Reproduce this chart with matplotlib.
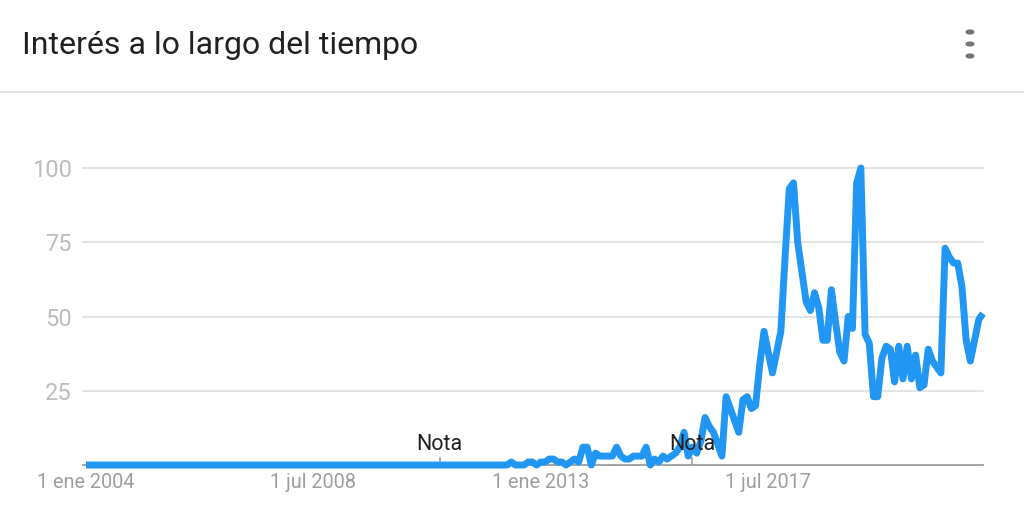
import matplotlib
matplotlib.use("Agg")
import matplotlib.pyplot as plt
from matplotlib.lines import Line2D
import numpy as np

plt.rcParams['font.family'] = ['Roboto', 'DejaVu Sans']

title = "Interés a lo largo del tiempo"
y_ticks = [25, 50, 75, 100]
x_tick_pos = [0, 54, 108, 162]
x_tick_labels = ["1 ene 2004", "1 jul 2008", "1 ene 2013", "1 jul 2017"]
note_pos = [84, 144]
note_label = "Nota"

# monthly interest, Jan 2004 .. Oct 2021
zeros_part = [0] * 100
values_2012_on = [
    0, 1, 0, 0, 0, 1, 1, 0, 1, 1,      # 100-109
    2, 2, 1, 1, 0, 1, 2, 1, 6, 6,      # 110-119
    0, 4, 3, 3, 3, 3, 6, 3, 2, 2,      # 120-129
    3, 3, 3, 6, 0, 2, 1, 3, 2, 3,      # 130-139
    4, 6, 11, 3, 6, 4, 8, 16, 13, 11,  # 140-149
    7, 3, 23, 19, 15, 11, 22, 23, 19, 20,  # 150-159
    34, 45, 38, 31, 38, 45, 70, 93, 95, 75,  # 160-169
    65, 55, 52, 58, 53, 42, 42, 59, 48, 38,  # 170-179
    35, 50, 46, 95, 100, 44, 41, 23, 23, 36,  # 180-189
    40, 39, 28, 40, 29, 40, 29, 37, 26, 27,  # 190-199
    39, 35, 33, 31, 73, 70, 68, 68, 60, 42,  # 200-209
    35, 42, 49, 51,                          # 210-213
]
interest = zeros_part + values_2012_on
x = np.arange(len(interest))

W, H = 1024, 515
fig = plt.figure(figsize=(W / 100, H / 100), dpi=100)
fig.patch.set_facecolor('white')

x_left_px, x_right_px = 83, 983
y_bot_px, y_top_px = 465, 168
ax = fig.add_axes([x_left_px / W, (H - y_bot_px) / H,
                   (x_right_px - x_left_px) / W, (y_bot_px - y_top_px) / H])
ax.set_facecolor('white')

px_per_month = (983 - 86) / 213
ax.set_xlim(-3 / px_per_month, 213)
ax.set_ylim(0, 100)

for v in y_ticks:
    ax.axhline(v, color='#e0e0e0', lw=1.3, zorder=1, clip_on=False)

ax.plot(x, interest, color='#2196f3', lw=5.0, solid_joinstyle='round',
        solid_capstyle='butt', zorder=3, clip_on=False)

for s in ['top', 'right', 'left']:
    ax.spines[s].set_visible(False)
ax.spines['bottom'].set_color('#9e9e9e')
ax.spines['bottom'].set_linewidth(1.3)
ax.spines['bottom'].set_zorder(2)

ax.set_yticks(y_ticks)
ax.set_yticklabels([str(v) for v in y_ticks])
ax.tick_params(axis='y', length=0, pad=8, labelsize=17, labelcolor='#bdbdbd')
ax.set_xticks(x_tick_pos)
ax.set_xticklabels(x_tick_labels)
ax.tick_params(axis='x', length=0, pad=6, labelsize=14.3, labelcolor='#9e9e9e')

for p in note_pos:
    ax.plot([p, p], [0, 2.3], color='#9e9e9e', lw=1.2, zorder=2)
    ax.text(p, 3.4, note_label, ha='center', va='bottom', fontsize=15.5,
            color='#212121', zorder=5)

fig.text(22 / W, 1 - 45 / H, title, ha='left', va='center', fontsize=23,
         color='#212121')

# divider under header
fig.add_artist(Line2D([0, 1], [1 - 92 / H, 1 - 92 / H], color='#e0e0e0', lw=1.6))

# menu dots
for yy in [32, 44, 56]:
    fig.add_artist(plt.Circle((970 / W, 1 - yy / H), 3.8 / W, color='#757575',
                              transform=fig.transFigure))

fig.savefig('out.png', dpi=100, facecolor='white')
